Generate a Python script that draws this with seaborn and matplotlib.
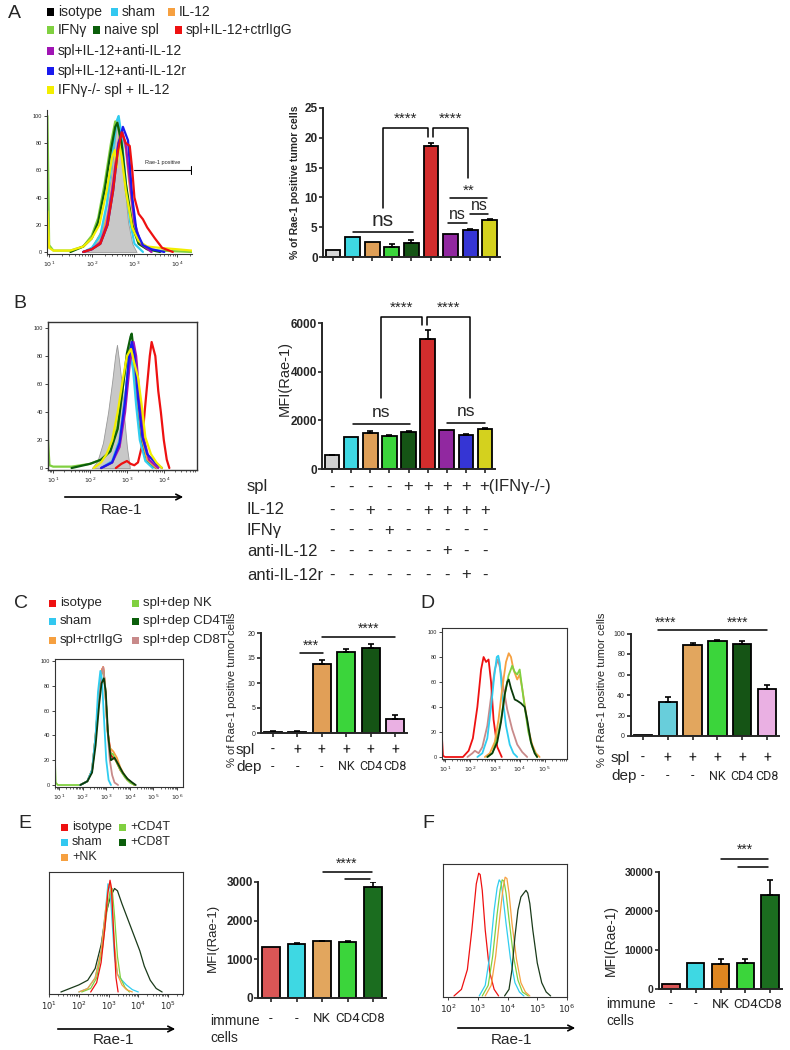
import numpy as np
import pandas as pd
import matplotlib
matplotlib.use('Agg')
import matplotlib.pyplot as plt
import matplotlib.transforms as mtransforms
from matplotlib.patches import Rectangle
import seaborn as sns

sns.set_style('ticks')
plt.rcParams['font.family'] = ['Liberation Sans', 'DejaVu Sans']
plt.rcParams['mathtext.fontset'] = 'dejavusans'

# ---------------- colours ----------------
GRAY = '#c8c8c8'; CYAN = '#30cdf0'; ORANGE = '#f6a040'; LGREEN = '#80d040'
DGREEN = '#0b5e0b'; RED = '#ee1111'; PURPLE = '#a014b4'; BLUE = '#1a1aee'
YELLOW = '#f2ee00'; ROSY = '#c88a8a'; LIME = '#22ee22'; PINK = '#f4a6ea'
BCYAN = '#22f0ff'

# ---------------- panel A data ----------------
a_groups = ['isotype', 'sham', 'IL-12', 'IFNγ', 'naive spl', 'spl+IL-12+ctrlIgG',
            'spl+IL-12+anti-IL-12', 'spl+IL-12+anti-IL-12r', 'IFNγ-/- spl + IL-12']
a_bar_vals = [1.1, 3.3, 2.5, 1.7, 2.3, 18.6, 3.8, 4.5, 6.2]
a_bar_errs = [0.0, 0.0, 0.0, 0.5, 0.5, 0.6, 0.0, 0.2, 0.1]
a_bar_cols = ['#d8d8d8', BCYAN, ORANGE, LIME, DGREEN, RED, PURPLE, BLUE, YELLOW]

a_gray_x = [1.8, 2.0, 2.2, 2.35, 2.45, 2.55, 2.6, 2.65, 2.75, 2.85, 2.95, 3.05]
a_gray_y = [0, 4, 15, 35, 55, 85, 100, 90, 55, 22, 6, 0]
a_lgreen_x = [0.96, 1.0, 1.1, 1.5, 1.8, 2.0, 2.15, 2.3, 2.45, 2.55, 2.62, 2.7, 2.8, 2.95, 3.1, 3.3, 3.6, 4.35]
a_lgreen_y = [100, 5, 1, 1, 4, 12, 25, 50, 80, 96, 92, 75, 45, 18, 6, 2, 1, 0]
a_dgreen_x = [1.5, 1.8, 2.0, 2.15, 2.3, 2.45, 2.55, 2.6, 2.7, 2.8, 2.95, 3.1, 3.3, 3.6]
a_dgreen_y = [0, 4, 10, 22, 45, 75, 92, 95, 80, 50, 20, 6, 2, 0]
a_cyan_x = [1.8, 2.0, 2.2, 2.35, 2.5, 2.58, 2.63, 2.7, 2.8, 2.9, 3.0, 3.2]
a_cyan_y = [0, 3, 12, 35, 75, 96, 100, 85, 50, 22, 6, 0]
a_orange_x = [1.8, 2.0, 2.2, 2.4, 2.55, 2.65, 2.72, 2.8, 2.9, 3.0, 3.15, 3.4]
a_orange_y = [0, 2, 8, 30, 65, 85, 88, 75, 45, 20, 6, 0]
a_purple_x = [1.8, 2.0, 2.2, 2.35, 2.5, 2.62, 2.72, 2.8, 2.9, 3.0, 3.15, 3.4]
a_purple_y = [0, 2, 7, 20, 50, 80, 88, 78, 50, 22, 6, 0]
a_blue_x = [1.8, 2.0, 2.2, 2.37, 2.5, 2.62, 2.73, 2.85, 2.95, 3.05, 3.2, 3.4, 3.7]
a_blue_y = [0, 2, 6, 20, 45, 78, 92, 82, 40, 15, 5, 2, 0]
a_yellow_x = [0.96, 1.0, 1.1, 1.5, 1.8, 2.0, 2.18, 2.35, 2.48, 2.54, 2.58, 2.64, 2.7, 2.8, 2.95, 3.1, 3.3, 3.6, 4.0, 4.35]
a_yellow_y = [30, 3, 1, 1, 4, 10, 20, 45, 70, 75, 62, 80, 70, 45, 18, 8, 4, 3, 2, 1]
a_red_x = [1.8, 2.0, 2.2, 2.37, 2.5, 2.6, 2.7, 2.8, 2.89, 2.95, 3.0, 3.1, 3.2, 3.3, 3.48, 3.65, 3.9]
a_red_y = [0, 2, 6, 20, 45, 72, 88, 80, 78, 60, 40, 28, 24, 18, 10, 3, 0]

# ---------------- panel B data ----------------
b_bar_vals = [560, 1320, 1500, 1340, 1530, 5350, 1620, 1400, 1660]
b_bar_errs = [20, 0, 80, 50, 30, 380, 0, 50, 40]
b_rows = ['spl', 'IL-12', 'IFNγ', 'anti-IL-12', 'anti-IL-12r']
b_table = [['-', '-', '-', '-', '+', '+', '+', '+', '+(IFNγ-/-)'],
           ['-', '-', '+', '-', '-', '+', '+', '+', '+'],
           ['-', '-', '-', '+', '-', '-', '-', '-', '-'],
           ['-', '-', '-', '-', '-', '-', '+', '-', '-'],
           ['-', '-', '-', '-', '-', '-', '-', '+', '-']]

b_gray_x = [2.05, 2.2, 2.35, 2.49, 2.6, 2.68, 2.73, 2.78, 2.86, 2.93, 3.0, 3.08]
b_gray_y = [0, 5, 18, 40, 62, 80, 88, 78, 60, 35, 15, 0]
b_lgreen_x = [0.86, 0.9, 1.0, 1.5, 2.0, 2.3, 2.55, 2.75, 2.9, 3.0, 3.1, 3.18, 3.3, 3.45, 3.6, 3.8]
b_lgreen_y = [20, 2, 1, 1, 3, 6, 12, 30, 60, 78, 88, 80, 40, 12, 3, 0]
b_dgreen_x = [1.5, 2.0, 2.3, 2.55, 2.75, 2.9, 3.0, 3.1, 3.13, 3.2, 3.3, 3.45, 3.6, 3.8]
b_dgreen_y = [0, 3, 6, 12, 28, 60, 82, 94, 96, 80, 40, 12, 3, 0]
b_cyan_x = [2.3, 2.6, 2.8, 2.95, 3.05, 3.1, 3.17, 3.25, 3.35, 3.5, 3.7]
b_cyan_y = [0, 5, 20, 50, 75, 80, 70, 45, 20, 5, 0]
b_orange_x = [2.3, 2.6, 2.8, 2.95, 3.05, 3.13, 3.2, 3.3, 3.42, 3.55, 3.8]
b_orange_y = [0, 4, 20, 50, 75, 85, 78, 45, 20, 6, 0]
b_purple_x = [2.3, 2.6, 2.8, 2.95, 3.08, 3.18, 3.25, 3.35, 3.45, 3.6, 3.85]
b_purple_y = [0, 4, 15, 40, 75, 90, 80, 48, 22, 6, 0]
b_blue_x = [2.3, 2.6, 2.8, 2.95, 3.05, 3.13, 3.2, 3.3, 3.42, 3.55, 3.8, 3.95]
b_blue_y = [0, 4, 18, 48, 78, 90, 82, 50, 22, 10, 3, 0]
b_yellow_x = [2.1, 2.3, 2.45, 2.6, 2.75, 2.9, 3.0, 3.11, 3.2, 3.3, 3.4, 3.5, 3.65, 3.8, 3.95]
b_yellow_y = [0, 4, 10, 20, 40, 65, 80, 85, 75, 65, 45, 22, 10, 4, 0]
b_red_x = [2.7, 2.85, 3.0, 3.1, 3.2, 3.3, 3.4, 3.48, 3.55, 3.62, 3.67, 3.72, 3.77, 3.85, 3.92, 4.0, 4.08, 4.15]
b_red_y = [0, 3, 5, 3, 2, 4, 15, 40, 60, 80, 90, 85, 80, 55, 40, 20, 6, 0]

# ---------------- panel C / D data ----------------
cd_groups = ['isotype', 'sham', 'spl+ctrlIgG', 'spl+dep NK', 'spl+dep CD4T', 'spl+dep CD8T']
cd_spl = ['-', '+', '+', '+', '+', '+']
cd_dep = ['-', '-', '-', 'NK', 'CD4', 'CD8']
c_bar_vals = [0.3, 0.3, 13.8, 16.2, 17.0, 2.9]
c_bar_errs = [0.1, 0.1, 0.8, 0.6, 0.8, 0.7]
c_bar_cols = ['#c03030', '#20a8b8', '#f8a040', LIME, DGREEN, PINK]
d_bar_vals = [1.0, 33.5, 88.5, 93.0, 90.0, 45.5]
d_bar_errs = [0.0, 5.0, 2.0, 1.0, 3.0, 4.5]
d_bar_cols = ['#909090', '#55ddee', '#f8a848', LIME, DGREEN, PINK]

c_red_x = [1.9, 2.2, 2.4, 2.55, 2.7, 2.8, 2.87, 2.95, 3.05, 3.2, 3.4, 3.6, 3.9, 4.2]
c_red_y = [0, 3, 12, 40, 75, 92, 95, 80, 45, 24, 20, 12, 4, 0]
c_cyan_x = [1.9, 2.2, 2.4, 2.55, 2.65, 2.75, 2.82, 2.9, 3.0, 3.1, 3.2]
c_cyan_y = [0, 3, 12, 40, 75, 92, 85, 55, 20, 4, 0]
c_orange_x = [1.9, 2.2, 2.4, 2.55, 2.7, 2.8, 2.87, 2.95, 3.05, 3.15, 3.3, 3.45, 3.6, 3.8, 4.0, 4.2]
c_orange_y = [0, 3, 12, 40, 75, 92, 95, 80, 45, 30, 27, 22, 14, 7, 3, 0]
c_rosy_x = [1.9, 2.2, 2.4, 2.55, 2.7, 2.8, 2.87, 2.95, 3.05, 3.15, 3.25, 3.35, 3.5]
c_rosy_y = [0, 3, 12, 38, 72, 90, 95, 80, 45, 20, 8, 2, 0]
c_lgreen_x = [0.83, 0.86, 0.95, 1.5, 1.9, 2.2, 2.4, 2.55, 2.7, 2.8, 2.87, 2.95, 3.05, 3.15, 3.28, 3.4, 3.6, 3.8, 4.0, 4.2]
c_lgreen_y = [18, 2, 0, 0, 0, 3, 12, 40, 75, 90, 93, 80, 45, 26, 25, 20, 12, 6, 2, 0]
c_dgreen_x = [1.9, 2.2, 2.4, 2.55, 2.7, 2.8, 2.9, 2.98, 3.08, 3.2, 3.35, 3.5, 3.7, 3.9, 4.1, 4.25]
c_dgreen_y = [0, 3, 10, 32, 65, 82, 86, 75, 40, 20, 22, 17, 10, 5, 2, 0]

d_red_x = [0.88, 0.92, 1.0, 1.5, 1.72, 1.95, 2.12, 2.3, 2.45, 2.55, 2.65, 2.75, 2.85, 2.95, 3.1, 3.28]
d_red_y = [15, 1, 0, 0, 0, 5, 15, 40, 70, 80, 76, 78, 60, 30, 8, 0]
d_rosy_x = [1.9, 2.1, 2.2, 2.35, 2.5, 2.7, 2.85, 3.0, 3.12, 3.2, 3.35, 3.5, 3.7, 3.9, 4.1, 4.3]
d_rosy_y = [0, 3, 5, 3, 8, 25, 48, 70, 78, 72, 55, 38, 22, 10, 4, 0]
d_cyan_x = [2.3, 2.5, 2.7, 2.85, 2.98, 3.08, 3.14, 3.2, 3.3, 3.45, 3.6, 3.75, 3.9]
d_cyan_y = [0, 3, 15, 40, 65, 80, 81, 75, 50, 25, 10, 3, 0]
d_orange_x = [2.6, 2.8, 3.0, 3.15, 3.3, 3.45, 3.56, 3.65, 3.75, 3.9, 4.0, 4.1, 4.2, 4.35, 4.5, 4.65, 4.8]
d_orange_y = [0, 3, 12, 30, 55, 76, 83, 80, 70, 62, 66, 55, 42, 22, 10, 3, 0]
d_lgreen_x = [2.7, 2.9, 3.1, 3.25, 3.4, 3.55, 3.7, 3.8, 3.9, 4.0, 4.1, 4.2, 4.35, 4.5, 4.7]
d_lgreen_y = [0, 3, 15, 30, 50, 65, 73, 68, 66, 70, 55, 40, 20, 8, 0]
d_dgreen_x = [2.7, 2.9, 3.1, 3.25, 3.4, 3.5, 3.56, 3.65, 3.8, 3.9, 4.05, 4.2, 4.3, 4.45, 4.6, 4.7]
d_dgreen_y = [0, 3, 12, 28, 50, 60, 62, 55, 46, 45, 43, 40, 30, 12, 3, 0]

# ---------------- panel E / F data ----------------
ef_groups = ['isotype', 'sham', '+NK', '+CD4T', '+CD8T']
ef_labels = ['-', '-', 'NK', 'CD4', 'CD8']
e_bar_vals = [1310, 1390, 1470, 1440, 2880]
e_bar_errs = [0, 20, 15, 25, 110]
e_bar_cols = ['#f04040', BCYAN, '#f8a848', LIME, '#0e7a12']
f_bar_vals = [1200, 6600, 6400, 6600, 24200]
f_bar_errs = [0, 0, 1300, 1000, 3800]
f_bar_cols = ['#f04040', BCYAN, '#ff8800', LIME, '#0e7a12']

e_dgreen_x = [1.4, 1.7, 2.0, 2.3, 2.55, 2.75, 2.9, 3.05, 3.2, 3.3, 3.45, 3.6, 3.75, 3.9, 4.05, 4.2, 4.4, 4.6, 4.8]
e_dgreen_y = [0, 3, 6, 10, 20, 40, 65, 80, 88, 86, 75, 65, 55, 45, 35, 22, 10, 3, 0]
e_cyan_x = [2.0, 2.3, 2.55, 2.75, 2.9, 2.98, 3.05, 3.12, 3.2, 3.3, 3.45, 3.6, 3.8, 4.0]
e_cyan_y = [0, 3, 12, 35, 70, 92, 88, 60, 30, 15, 10, 6, 2, 0]
e_orange_x = [2.0, 2.3, 2.55, 2.75, 2.9, 3.0, 3.06, 3.12, 3.2, 3.3, 3.45, 3.6, 3.8]
e_orange_y = [0, 3, 12, 35, 70, 90, 93, 75, 40, 15, 6, 2, 0]
e_lgreen_x = [2.1, 2.4, 2.6, 2.8, 2.95, 3.05, 3.12, 3.2, 3.3, 3.4, 3.55, 3.7]
e_lgreen_y = [0, 3, 12, 38, 70, 85, 88, 65, 30, 12, 4, 0]
e_red_x = [2.4, 2.6, 2.75, 2.88, 2.98, 3.05, 3.1, 3.17, 3.25, 3.32]
e_red_y = [0, 8, 25, 55, 85, 95, 88, 50, 12, 0]

f_red_x = [2.2, 2.45, 2.65, 2.8, 2.95, 3.03, 3.08, 3.15, 3.25, 3.4, 3.55, 3.7]
f_red_y = [0, 5, 20, 50, 85, 93, 92, 80, 50, 18, 5, 0]
f_cyan_x = [3.05, 3.25, 3.4, 3.55, 3.65, 3.72, 3.78, 3.85, 3.95, 4.1, 4.25, 4.4, 4.55]
f_cyan_y = [0, 8, 30, 65, 82, 88, 86, 75, 55, 28, 10, 3, 0]
f_lgreen_x = [3.15, 3.35, 3.5, 3.65, 3.75, 3.82, 3.88, 3.95, 4.05, 4.2, 4.35, 4.5, 4.7]
f_lgreen_y = [0, 8, 30, 62, 80, 88, 87, 78, 58, 30, 12, 3, 0]
f_orange_x = [3.25, 3.45, 3.6, 3.75, 3.85, 3.92, 3.98, 4.05, 4.15, 4.3, 4.45, 4.6, 4.75]
f_orange_y = [0, 8, 30, 62, 82, 90, 89, 78, 55, 28, 10, 3, 0]
f_dgreen_x = [3.9, 4.05, 4.15, 4.25, 4.35, 4.45, 4.55, 4.62, 4.68, 4.75, 4.85, 5.0, 5.15, 5.3, 5.45]
f_dgreen_y = [0, 5, 20, 45, 65, 75, 78, 80, 78, 70, 50, 25, 10, 3, 0]

# ---------------- helpers ----------------
W, H = 790, 1050
fig = plt.figure(figsize=(W / 100, H / 100), dpi=100)
NARROW = ['Roboto', 'DejaVu Sans']


def add_ax(l, t, r, b):
    return fig.add_axes([l / W, 1 - b / H, (r - l) / W, (b - t) / H])


def ftext(x, y, s, **kw):
    kw.setdefault('va', 'center')
    fig.text(x / W, 1 - y / H, s, **kw)


def legend_item(x, y, color, label, fs=10):
    fig.add_artist(Rectangle((x / W, 1 - (y + 3.5) / H), 7 / W, 7 / H,
                             transform=fig.transFigure, color=color, lw=0))
    ftext(x + 11, y, label, fontsize=fs, ha='left')


def arrow(x1, x2, y):
    fig.add_artist(matplotlib.patches.FancyArrowPatch(
        (x1 / W, 1 - y / H), (x2 / W, 1 - y / H), transform=fig.transFigure,
        arrowstyle='->', mutation_scale=10, lw=1.2, color='black'))


def hist_axes(ax, xlim, ylim, major, box=True, yt=True, fs=4.5, minor=True, lw=0.8):
    ax.set_xlim(*xlim)
    ax.set_ylim(*ylim)
    ax.set_xticks(major)
    ax.set_xticklabels([f'$10^{{{n}}}$' for n in major], fontsize=fs)
    if minor:
        mt = [n + np.log10(k) for n in range(0, 7) for k in range(2, 10)]
        mt = [m for m in mt if xlim[0] < m < xlim[1]]
        ax.set_xticks(mt, minor=True)
        ax.tick_params(axis='x', which='minor', length=1.5, width=0.5)
    ax.tick_params(axis='x', which='major', length=2.5, width=0.6, pad=1.5)
    if yt:
        ax.set_yticks([0, 20, 40, 60, 80, 100])
        ax.set_yticklabels(['0', '20', '40', '60', '80', '100'], fontsize=fs - 0.5)
        ax.tick_params(axis='y', length=2, width=0.6, pad=1.5)
    else:
        ax.set_yticks([])
    for s in ['top', 'right']:
        ax.spines[s].set_visible(box)
    for s in ax.spines.values():
        s.set_linewidth(lw)
        s.set_color('#333333')


def bar_chart(ax, groups, vals, errs, cols, width, ylim):
    df = pd.DataFrame({'group': groups, 'value': vals})
    sns.barplot(data=df, x='group', y='value', hue='group', order=groups, hue_order=groups,
                palette=dict(zip(groups, cols)), legend=False, ax=ax, width=width,
                edgecolor='black', linewidth=1.3, errorbar=None)
    pos = np.arange(len(groups))
    e = np.array(errs, dtype=float)
    m = e > 0
    ax.errorbar(pos[m], np.array(vals, dtype=float)[m], yerr=[np.zeros(m.sum()), e[m]],
                fmt='none', ecolor='black', elinewidth=1.2, capsize=2.5, capthick=1.2)
    ax.set_xlim(-0.5, len(groups) - 0.5)
    ax.set_ylim(*ylim)
    ax.set_xlabel('')
    ax.set_ylabel('')
    ax.set_xticks(pos)
    ax.set_xticklabels([])
    ax.tick_params(axis='x', length=3, width=1.2)
    ax.tick_params(axis='y', length=3, width=1.2, pad=1)
    sns.despine(ax=ax)
    for s in ['left', 'bottom']:
        ax.spines[s].set_linewidth(1.4)


def bar_axes(c0, step, n, y0px, ytop_px):
    return add_ax(c0 - 0.5 * step, ytop_px, c0 + (n - 0.5) * step, y0px)


def row_text(ax, items, ypx, fs, **kw):
    tr = mtransforms.blended_transform_factory(ax.transData, fig.transFigure)
    for i, s in enumerate(items):
        if s.startswith('+('):
            ax.text(i - 0.28, 1 - ypx / H, s, transform=tr, fontsize=fs, ha='left', va='center', **kw)
        else:
            ax.text(i, 1 - ypx / H, s, transform=tr, fontsize=fs, ha='center', va='center', **kw)


def sig_line(ax, xs, ys, lw=1.1):
    ax.plot(xs, ys, color='black', lw=lw, clip_on=False)


# ================= PANEL A =================
ftext(8, 14, 'A', fontsize=14, ha='left')
legend_item(47, 12, 'black', 'isotype')
legend_item(111, 12, '#33c8f0', 'sham')
legend_item(168, 12, ORANGE, 'IL-12')
legend_item(47, 30, LGREEN, 'IFNγ')
legend_item(93, 30, DGREEN, 'naive spl')
legend_item(175, 30, RED, 'spl+IL-12+ctrlIgG')
legend_item(47, 51, PURPLE, 'spl+IL-12+anti-IL-12')
legend_item(47, 71, BLUE, 'spl+IL-12+anti-IL-12r')
legend_item(47, 90, YELLOW, 'IFNγ-/- spl + IL-12')

axA = add_ax(47, 110, 192, 254)
axA.fill_between(a_gray_x, a_gray_y, color=GRAY, lw=0.6, edgecolor='#999999')
for xs, ys, c in [(a_orange_x, a_orange_y, ORANGE), (a_cyan_x, a_cyan_y, CYAN),
                  (a_lgreen_x, a_lgreen_y, LGREEN), (a_dgreen_x, a_dgreen_y, DGREEN),
                  (a_purple_x, a_purple_y, PURPLE), (a_yellow_x, a_yellow_y, YELLOW),
                  (a_blue_x, a_blue_y, BLUE), (a_red_x, a_red_y, RED)]:
    axA.plot(xs, ys, color=c, lw=1.6)
hist_axes(axA, (0.95, 4.35), (-1.5, 104.4), [1, 2, 3, 4], box=False, fs=4.5)
axA.plot([3.0, 4.33], [60, 60], color='black', lw=0.8)
axA.plot([4.33, 4.33], [57, 63], color='black', lw=0.8)
axA.text(3.65, 64, 'Rae-1 positive', fontsize=4, ha='center', va='bottom')

axAb = bar_axes(333, 19.6, 9, 257, 108)
bar_chart(axAb, a_groups, a_bar_vals, a_bar_errs, a_bar_cols, 0.76, (0, 25))
axAb.set_yticks([0, 5, 10, 15, 20, 25])
axAb.set_yticklabels(['0', '5', '10', '15', '20', '25'], fontsize=8.5, fontweight='bold')
ftext(295, 182, '% of Rae-1 positive tumor cells', fontsize=7.5, fontweight='bold',
      rotation=90, ha='center')
sig_line(axAb, [2.55, 2.55, 4.85, 4.85], [8.2, 21.6, 21.6, 20.2])
sig_line(axAb, [5.1, 5.1, 6.9, 6.9], [20.2, 21.6, 21.6, 13.2])
axAb.text(3.7, 22.0, '****', fontsize=11, ha='center', va='bottom')
axAb.text(6.0, 22.0, '****', fontsize=11, ha='center', va='bottom')
sig_line(axAb, [1.0, 4.08], [4.25, 4.25])
axAb.text(2.55, 4.5, 'ns', fontsize=15, ha='center', va='bottom')
sig_line(axAb, [5.97, 7.86], [9.9, 9.9])
axAb.text(6.9, 10.0, '**', fontsize=11, ha='center', va='bottom')
sig_line(axAb, [5.87, 6.84], [5.75, 5.75])
axAb.text(6.35, 5.9, 'ns', fontsize=11.5, ha='center', va='bottom')
sig_line(axAb, [6.99, 7.9], [7.2, 7.2])
axAb.text(7.45, 7.35, 'ns', fontsize=11.5, ha='center', va='bottom')

# ================= PANEL B =================
ftext(13, 304, 'B', fontsize=14, ha='left')
axB = add_ax(48, 322, 197, 470)
axB.fill_between(b_gray_x, b_gray_y, color=GRAY, lw=0.6, edgecolor='#999999')
for xs, ys, c in [(b_red_x, b_red_y, RED), (b_lgreen_x, b_lgreen_y, LGREEN),
                  (b_dgreen_x, b_dgreen_y, DGREEN), (b_orange_x, b_orange_y, ORANGE),
                  (b_cyan_x, b_cyan_y, CYAN), (b_purple_x, b_purple_y, PURPLE),
                  (b_blue_x, b_blue_y, BLUE), (b_yellow_x, b_yellow_y, YELLOW)]:
    axB.plot(xs, ys, color=c, lw=1.6)
hist_axes(axB, (0.86, 4.9), (-1.4, 104.3), [1, 2, 3, 4], box=True, fs=4.5, lw=1.0)
arrow(62, 186, 497)
ftext(122, 510, 'Rae-1', fontsize=11, ha='center')

axBb = bar_axes(332, 19.125, 9, 469, 323)
bar_chart(axBb, a_groups, b_bar_vals, b_bar_errs,
          ['#d0d0d0'] + a_bar_cols[1:], 0.76, (0, 6000))
axBb.set_yticks([0, 2000, 4000, 6000])
axBb.set_yticklabels(['0', '2000', '4000', '6000'], fontsize=8.5, fontweight='bold')
ftext(285, 378, 'MFI(Rae-1)', fontsize=10.5, rotation=90, ha='center')
sig_line(axBb, [2.58, 2.58, 4.69, 4.69], [2916, 6256, 6256, 5913])
sig_line(axBb, [4.97, 4.97, 7.2, 7.2], [5913, 6256, 6256, 2916])
axBb.text(3.63, 6330, '****', fontsize=11, ha='center', va='bottom')
axBb.text(6.1, 6330, '****', fontsize=11, ha='center', va='bottom')
sig_line(axBb, [1.08, 4.08], [1848, 1848])
axBb.text(2.58, 2000, 'ns', fontsize=12.5, ha='center', va='bottom')
sig_line(axBb, [6.0, 8.0], [1900, 1900])
axBb.text(7.0, 2060, 'ns', fontsize=12.5, ha='center', va='bottom')

b_row_y = [487, 510, 530, 551, 575]
for lab, vals, ypx in zip(b_rows, b_table, b_row_y):
    ftext(247, ypx, lab, fontsize=12, ha='left')
    row_text(axBb, vals, ypx, 12)

# ================= PANEL C =================
ftext(14, 604, 'C', fontsize=14, ha='left')
legend_item(49, 603, RED, 'isotype', fs=9.5)
legend_item(132, 603, LGREEN, 'spl+dep NK', fs=9.5)
legend_item(49, 621, '#33c8f0', 'sham', fs=9.5)
legend_item(132, 621, DGREEN, 'spl+dep CD4T', fs=9.5)
legend_item(49, 640, ORANGE, 'spl+ctrlIgG', fs=9.5)
legend_item(132, 640, ROSY, 'spl+dep CD8T', fs=9.5)

axC = add_ax(55, 659, 183, 787)
for xs, ys, c in [(c_red_x, c_red_y, RED), (c_orange_x, c_orange_y, ORANGE),
                  (c_lgreen_x, c_lgreen_y, LGREEN), (c_rosy_x, c_rosy_y, ROSY),
                  (c_cyan_x, c_cyan_y, CYAN), (c_dgreen_x, c_dgreen_y, '#0a3a0a')]:
    axC.plot(xs, ys, color=c, lw=1.3)
hist_axes(axC, (0.83, 6.25), (-1.6, 101.6), [1, 2, 3, 4, 5, 6], box=True, fs=4.5)

axCb = bar_axes(273, 24.4, 6, 733, 633)
bar_chart(axCb, cd_groups, c_bar_vals, c_bar_errs, c_bar_cols, 0.74, (0, 20))
axCb.set_yticks([0, 5, 10, 15, 20])
axCb.set_yticklabels(['0', '5', '10', '15', '20'], fontsize=5)
ftext(232, 690, '% of Rae-1 positive tumor cells', fontsize=8, rotation=90, ha='center')
sig_line(axCb, [1.1, 2.05], [16.0, 16.0])
axCb.text(1.57, 16.1, '***', fontsize=10, ha='center', va='bottom')
sig_line(axCb, [2.0, 5.0], [19.3, 19.3])
axCb.text(3.9, 19.4, '****', fontsize=10, ha='center', va='bottom')
ftext(236, 750, 'spl', fontsize=11, ha='left')
ftext(236, 767, 'dep', fontsize=11, ha='left')
row_text(axCb, cd_spl, 750, 10, family=NARROW)
row_text(axCb, cd_dep, 767, 9, family=NARROW)

# ================= PANEL D =================
ftext(420, 604, 'D', fontsize=14, ha='left')
axD = add_ax(442, 628, 567, 759)
for xs, ys, c in [(d_rosy_x, d_rosy_y, ROSY), (d_red_x, d_red_y, RED),
                  (d_cyan_x, d_cyan_y, CYAN), (d_orange_x, d_orange_y, ORANGE),
                  (d_lgreen_x, d_lgreen_y, LGREEN), (d_dgreen_x, d_dgreen_y, '#0a3a0a')]:
    axD.plot(xs, ys, color=c, lw=1.3)
hist_axes(axD, (0.88, 5.9), (-1.6, 103.2), [1, 2, 3, 4, 5], box=True, fs=4.5)

axDb = bar_axes(643, 24.8, 6, 736, 633.5)
bar_chart(axDb, cd_groups, d_bar_vals, d_bar_errs, d_bar_cols, 0.74, (0, 100))
axDb.set_yticks([0, 20, 40, 60, 80, 100])
axDb.set_yticklabels(['0', '20', '40', '60', '80', '100'], fontsize=5)
ftext(602, 690, '% of Rae-1 positive tumor cells', fontsize=8, rotation=90, ha='center')
sig_line(axDb, [0.6, 5.0], [103, 103])
axDb.text(0.9, 104, '****', fontsize=10, ha='center', va='bottom')
axDb.text(3.8, 104, '****', fontsize=10, ha='center', va='bottom')
ftext(611, 758, 'spl', fontsize=11, ha='left')
ftext(611, 776, 'dep', fontsize=11, ha='left')
row_text(axDb, cd_spl, 758, 10, family=NARROW)
row_text(axDb, cd_dep, 776, 9, family=NARROW)

# ================= PANEL E =================
ftext(18, 824, 'E', fontsize=14, ha='left')
legend_item(61, 827, RED, 'isotype', fs=9)
legend_item(119, 827, LGREEN, '+CD4T', fs=9)
legend_item(61, 842, '#33c8f0', 'sham', fs=9)
legend_item(119, 842, DGREEN, '+CD8T', fs=9)
legend_item(61, 857, ORANGE, '+NK', fs=9)

axE = add_ax(49, 872, 183, 994)
for xs, ys, c in [(e_dgreen_x, e_dgreen_y, '#1a3a1a'), (e_cyan_x, e_cyan_y, CYAN),
                  (e_lgreen_x, e_lgreen_y, LGREEN), (e_orange_x, e_orange_y, ORANGE),
                  (e_red_x, e_red_y, RED)]:
    axE.plot(xs, ys, color=c, lw=0.9)
hist_axes(axE, (1.0, 5.5), (-1.7, 102), [1, 2, 3, 4, 5], box=True, yt=False, fs=6)
arrow(55, 178, 1029)
ftext(113, 1040, 'Rae-1', fontsize=11, ha='center')

axEb = bar_axes(271, 25.5, 5, 998, 882)
bar_chart(axEb, ef_groups, e_bar_vals, e_bar_errs, e_bar_cols, 0.68, (0, 3000))
axEb.set_yticks([0, 1000, 2000, 3000])
axEb.set_yticklabels(['0', '1000', '2000', '3000'], fontsize=8.5, fontweight='bold')
ftext(213, 938, 'MFI(Rae-1)', fontsize=9.5, rotation=90, ha='center')
sig_line(axEb, [2.04, 3.96], [3256, 3256])
sig_line(axEb, [2.9, 3.9], [3075, 3075])
axEb.text(2.98, 3300, '****', fontsize=10, ha='center', va='bottom')
ftext(210, 1021, 'immune', fontsize=10, ha='left')
ftext(210, 1038, 'cells', fontsize=10, ha='left')
row_text(axEb, ef_labels, 1019, 9.5, family=NARROW)

# ================= PANEL F =================
ftext(422, 823, 'F', fontsize=14, ha='left')
axF = add_ax(443, 864, 567, 997)
for xs, ys, c in [(f_red_x, f_red_y, RED), (f_cyan_x, f_cyan_y, CYAN),
                  (f_lgreen_x, f_lgreen_y, LGREEN), (f_orange_x, f_orange_y, ORANGE),
                  (f_dgreen_x, f_dgreen_y, '#1a3a1a')]:
    axF.plot(xs, ys, color=c, lw=0.9)
hist_axes(axF, (1.83, 5.97), (-0.8, 100), [2, 3, 4, 5, 6], box=True, yt=False, fs=6.5,
          minor=False)
arrow(455, 578, 1028)
ftext(512, 1040, 'Rae-1', fontsize=11, ha='center')

axFb = bar_axes(671, 24.75, 5, 989, 872)
bar_chart(axFb, ef_groups, f_bar_vals, f_bar_errs, f_bar_cols, 0.7, (0, 30000))
axFb.set_yticks([0, 10000, 20000, 30000])
axFb.set_yticklabels(['0', '10000', '20000', '30000'], fontsize=7.5, fontweight='bold')
ftext(611, 940, 'MFI(Rae-1)', fontsize=10, rotation=90, ha='center')
sig_line(axFb, [2.02, 3.92], [33300, 33300])
sig_line(axFb, [2.7, 3.92], [31300, 31300])
axFb.text(3.0, 33900, '***', fontsize=10, ha='center', va='bottom')
ftext(606, 1004, 'immune', fontsize=10, ha='left')
ftext(606, 1021, 'cells', fontsize=10, ha='left')
row_text(axFb, ef_labels, 1004, 9.5, family=NARROW)

fig.savefig('out.png', dpi=100, facecolor='white')
